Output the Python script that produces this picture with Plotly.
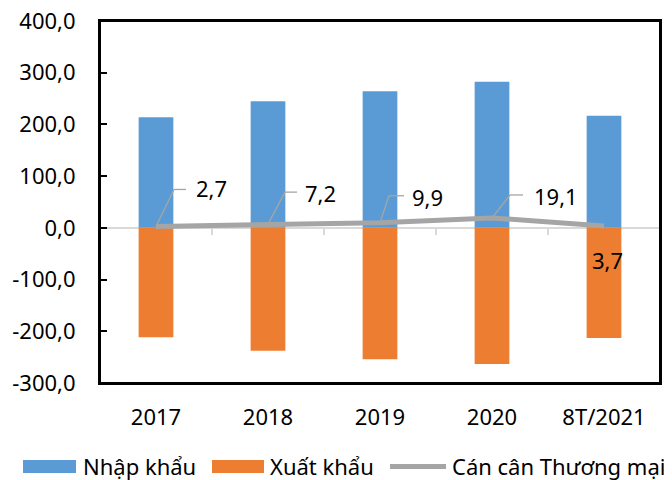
import plotly.graph_objects as go

categories = ["2017", "2018", "2019", "2020", "8T/2021"]
nhap_khau = [214.0, 244.7, 264.2, 282.6, 216.6]
xuat_khau = [-211.3, -237.5, -254.3, -263.5, -212.9]
can_can = [2.7, 7.2, 9.9, 19.1, 3.7]
ytick_vals = [-300, -200, -100, 0, 100, 200, 300, 400]
ytick_text = [f"{v:.1f}".replace(".", ",") for v in ytick_vals]
label_text = [f"{v:.1f}".replace(".", ",") for v in can_can]

FONT = "Noto Sans, DejaVu Sans, sans-serif"
FS = 22
BLUE = "#5B9BD5"
ORANGE = "#ED7D31"
GREY = "#A5A5A5"
ZGREY = "#D9D9D9"

fig = go.Figure()
fig.add_trace(go.Bar(x=categories, y=nhap_khau, name="Nhập khẩu",
                     marker=dict(color=BLUE, line=dict(width=0)), width=0.31,
                     showlegend=False))
fig.add_trace(go.Bar(x=categories, y=xuat_khau, name="Xuất khẩu",
                     marker=dict(color=ORANGE, line=dict(width=0)), width=0.31,
                     showlegend=False))
fig.add_trace(go.Scatter(x=categories, y=can_can, name="Cán cân Thương mại",
                         mode="lines", line=dict(color=GREY, width=5),
                         xaxis="x2", yaxis="y", showlegend=False))

annotations = []
shapes = []
# leader-line label offsets (pixels): diag dx, diag up, horizontal length, text dx, text up
offsets = [(18, 37, 12, 38, 38), (17, 32, 12, 35, 31), (9, 27, 15, 30, 26), (18, 23, 13, 40, 22)]
for i, (dx, up, hl, tdx, tup) in enumerate(offsets):
    val = can_can[i]
    common = dict(type="line", xref="x", yref="y", xsizemode="pixel", ysizemode="pixel",
                  xanchor=i, yanchor=val, line=dict(color=GREY, width=1.3), layer="above")
    shapes.append(dict(common, x0=0, y0=0, x1=dx, y1=up))
    shapes.append(dict(common, x0=dx, y0=up, x1=dx + hl, y1=up))
    annotations.append(dict(x=i, y=val, xref="x", yref="y", text=label_text[i],
                            showarrow=False, xanchor="left", yanchor="middle",
                            xshift=tdx, yshift=tup, font=dict(family=FONT, size=FS, color="black")))
annotations.append(dict(x=4, y=can_can[4], xref="x", yref="y", text=label_text[4],
                        showarrow=False, xanchor="center", yanchor="middle",
                        xshift=3, yshift=-34, font=dict(family=FONT, size=FS, color="black")))

# plot-area frame
shapes.append(dict(type="rect", xref="paper", yref="paper", x0=0, x1=1, y0=0, y1=1,
                   line=dict(color="black", width=2), fillcolor="rgba(0,0,0,0)", layer="above"))

# custom legend (window pixel positions mapped into paper coordinates)
def px_x(p):
    return (p - 100) / 560.0

def px_y(q):
    return (383 - q) / 362.0

shapes += [
    dict(type="rect", xref="paper", yref="paper", x0=px_x(23), x1=px_x(76),
         y0=px_y(473), y1=px_y(460), fillcolor=BLUE, line=dict(width=0)),
    dict(type="rect", xref="paper", yref="paper", x0=px_x(212), x1=px_x(264),
         y0=px_y(473), y1=px_y(460), fillcolor=ORANGE, line=dict(width=0)),
    dict(type="line", xref="paper", yref="paper", x0=px_x(390), x1=px_x(446),
         y0=px_y(466.5), y1=px_y(466.5), line=dict(color=GREY, width=5)),
]
for name, xp in [("Nhập khẩu", 81), ("Xuất khẩu", 268), ("Cán cân Thương mại", 450)]:
    annotations.append(dict(x=px_x(xp), y=px_y(466), xref="paper", yref="paper", text=name,
                            showarrow=False, xanchor="left", yanchor="middle",
                            font=dict(family=FONT, size=FS, color="black")))

# page body has an 8px margin, so the figure is 8px smaller and margins shifted
fig.update_layout(
    width=664, height=472,
    margin=dict(l=92, r=12, t=13, b=97, pad=0, autoexpand=False),
    paper_bgcolor="white", plot_bgcolor="white",
    barmode="relative",
    font=dict(family=FONT, size=FS, color="black"),
    xaxis=dict(type="category", categoryorder="array", categoryarray=categories,
               range=[-0.5, 4.5], showline=True, linecolor="black", linewidth=2,
               mirror=True, ticks="", showgrid=False, zeroline=False, automargin=False,
               tickfont=dict(family=FONT, size=FS, color="black"), ticklabelstandoff=14),
    xaxis2=dict(type="category", categoryorder="array", categoryarray=categories,
                range=[-0.5, 4.5], overlaying="x", anchor="free", position=3/7,
                showline=True, linecolor=ZGREY, linewidth=2, ticks="outside",
                ticklen=6, tickwidth=1.5, tickcolor=ZGREY, tickson="boundaries",
                showticklabels=False, showgrid=False, zeroline=False, automargin=False,
                layer="below traces"),
    yaxis=dict(range=[-300, 400], tickvals=ytick_vals, ticktext=ytick_text,
               showline=True, linecolor="black", linewidth=2, mirror=True,
               ticks="inside", ticklen=7, tickcolor="black", tickwidth=1.5,
               showgrid=False, zeroline=False, ticklabelstandoff=18, automargin=False,
               ticklabeloverflow="allow",
               tickfont=dict(family=FONT, size=FS, color="black")),
    annotations=annotations, shapes=shapes,
)

fig.write_html("out.html")
